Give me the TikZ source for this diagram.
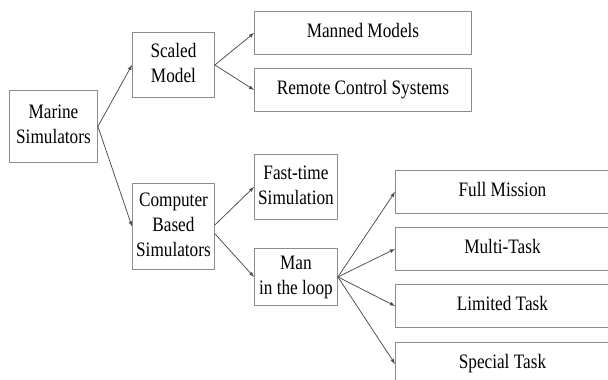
\documentclass[tikz,border=0pt]{standalone}
\usepackage{fontspec}
\setmainfont{Liberation Serif}
\usepackage{graphicx}
\usepackage{tikz}
\usetikzlibrary{arrows, positioning, shapes}
\definecolor{box_gray}{gray}{0.55}
\definecolor{link_gray}{gray}{0.3}
% narrow lettering as in the scan
\newcommand{\narrowtext}[1]{\scalebox{0.84}[1]{\begin{tabular}{@{}c@{}}#1\end{tabular}}}

\begin{document}
\begin{tikzpicture}[x=1pt,y=-1pt,line join=round,line cap=round,
	simbox/.style={draw=box_gray,line width=0.9pt,anchor=north west,inner sep=0pt,align=center,
		font=\fontsize{20.5}{25}\selectfont,text=black},
	link/.style={draw=link_gray,line width=0.75pt,-latex}]
		\useasboundingbox (0,0) rectangle (608,380);
		\clip (0,0) rectangle (608,380);
		% first and second level
		\node[simbox,minimum width=88pt,minimum height=72pt] (marine)   at (9,90)   {\narrowtext{Marine\\Simulators}};
		\node[simbox,minimum width=82pt,minimum height=65pt] (scaled)   at (132,32) {\narrowtext{Scaled\\Model}};
		\node[simbox,minimum width=82pt,minimum height=86pt] (computer) at (132,183) {\narrowtext{Computer\\Based\\Simulators}};
		% third level
		\node[simbox,minimum width=217pt,minimum height=43pt] (manned)   at (254,11)  {\narrowtext{Manned Models}};
		\node[simbox,minimum width=217pt,minimum height=43pt] (remote)   at (254,68)  {\narrowtext{Remote Control Systems}};
		\node[simbox,minimum width=83pt,minimum height=65pt]  (fasttime) at (254,154) {\narrowtext{Fast-time\\Simulation}};
		\node[simbox,minimum width=83pt,minimum height=57pt]  (manloop)  at (254,248) {\narrowtext{Man\\in the loop}};
		% man in the loop
		\node[simbox,minimum width=214pt,minimum height=43pt] (full)    at (395,170) {\narrowtext{Full Mission}};
		\node[simbox,minimum width=214pt,minimum height=43pt] (multi)   at (395,227) {\narrowtext{Multi-Task}};
		\node[simbox,minimum width=214pt,minimum height=43pt] (limited) at (395,284) {\narrowtext{Limited Task}};
		\node[simbox,minimum width=214pt,minimum height=43pt] (special) at (395,342) {\narrowtext{Special Task}};
		\draw[link] (marine.east) -- (scaled.west);
		\draw[link] (marine.east) -- (computer.west);
		\draw[link] (scaled.east) -- (manned.west);
		\draw[link] (scaled.east) -- (remote.west);
		\draw[link] (computer.2) -- (fasttime.west);
		\draw[link] (computer.-10) -- (manloop.west);
		\foreach\t in {full,multi,limited,special}
			\draw[link] (manloop.east) -- (\t.west);
	\end{tikzpicture}
\end{document}
